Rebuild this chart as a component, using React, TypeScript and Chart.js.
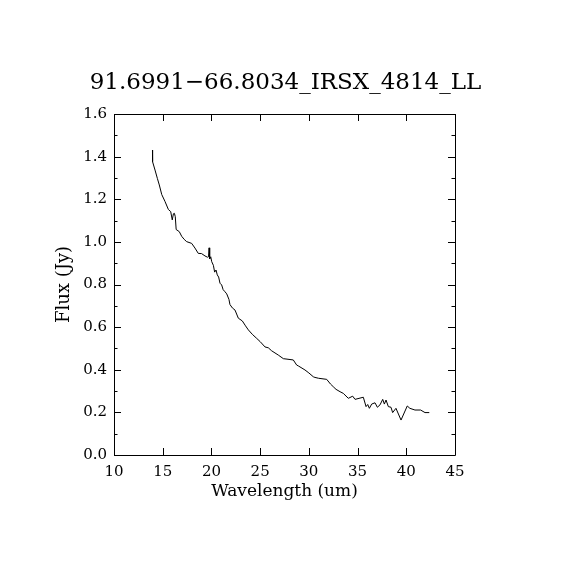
import React, { useEffect, useRef } from "react";
import { Chart, registerables } from "chart.js";

Chart.register(...registerables);

const titleText = "91.6991\u221266.8034_IRSX_4814_LL";
const xTitle = "Wavelength (um)";
const yTitle = "Flux (Jy)";

const wavelength = [
  13.95, 13.96, 14.21, 14.45, 14.65, 14.9, 15.23, 15.58, 15.82, 15.98, 16.1, 16.2, 16.29, 16.38,
  16.7, 16.95, 17.2, 17.46, 17.97, 18.31, 18.65, 18.99, 19.34, 19.6, 19.7, 19.76, 19.82, 19.93,
  20.03, 20.2, 20.33, 20.47, 20.6, 20.74, 20.88, 21.05, 21.2, 21.39, 21.57, 21.8, 21.9, 22.15,
  22.42, 22.76, 23.17, 23.5, 23.79, 24.2, 24.65, 25.0, 25.5, 25.84, 26.18, 26.86, 27.38, 28.4,
  28.75, 28.92, 29.6, 30.0, 30.46, 30.63, 31.0, 31.66, 31.83, 32.22, 32.56, 32.79, 33.2, 33.54,
  34.05, 34.5, 34.74, 35.59, 35.87, 36.04, 36.21, 36.45, 36.79, 37.03, 37.3, 37.58, 37.75, 37.92,
  38.16, 38.43, 38.6, 38.94, 39.46, 40.1, 40.37, 40.89, 41.47, 41.92, 42.36,
];
const flux = [
  1.431, 1.376, 1.337, 1.298, 1.267, 1.222, 1.19, 1.152, 1.142, 1.103, 1.132, 1.134, 1.118, 1.058,
  1.048, 1.026, 1.012, 1.001, 0.993, 0.971, 0.946, 0.945, 0.934, 0.928, 0.93, 0.972, 0.92, 0.93,
  0.907, 0.89, 0.858, 0.868, 0.845, 0.835, 0.806, 0.798, 0.776, 0.766, 0.756, 0.73, 0.706, 0.69,
  0.68, 0.642, 0.629, 0.606, 0.587, 0.566, 0.547, 0.532, 0.507, 0.503, 0.489, 0.469, 0.452, 0.446,
  0.422, 0.418, 0.399, 0.385, 0.367, 0.364, 0.36, 0.356, 0.355, 0.333, 0.318, 0.308, 0.297, 0.289,
  0.266, 0.276, 0.261, 0.271, 0.227, 0.237, 0.219, 0.239, 0.245, 0.224, 0.235, 0.261, 0.239, 0.258,
  0.227, 0.224, 0.199, 0.219, 0.164, 0.23, 0.219, 0.211, 0.211, 0.199, 0.199,
];

const xMajor = [10, 15, 20, 25, 30, 35, 40, 45];
const yMajor = [0, 0.2, 0.4, 0.6, 0.8, 1.0, 1.2, 1.4, 1.6];
const yMinor = [0.1, 0.3, 0.5, 0.7, 0.9, 1.1, 1.3, 1.5];

const FONT = "'DejaVu Serif', serif";

const framePlugin = {
  id: "frame",
  afterDraw(chart: any) {
    const { ctx, chartArea } = chart;
    const { left, right, top, bottom } = chartArea;
    const xs = chart.scales.x;
    const ys = chart.scales.y;
    ctx.save();
    ctx.strokeStyle = "#000";
    ctx.lineWidth = 1;
    ctx.beginPath();
    ctx.rect(Math.round(left) + 0.5, Math.round(top) + 0.5, Math.round(right - left), Math.round(bottom - top));
    ctx.stroke();
    ctx.beginPath();
    const major = 7;
    const minor = 3.5;
    xMajor.forEach((v) => {
      const px = Math.round(xs.getPixelForValue(v)) + 0.5;
      ctx.moveTo(px, bottom);
      ctx.lineTo(px, bottom - major);
      ctx.moveTo(px, top);
      ctx.lineTo(px, top + major);
    });
    yMajor.forEach((v) => {
      const py = Math.round(ys.getPixelForValue(v)) + 0.5;
      ctx.moveTo(left, py);
      ctx.lineTo(left + major, py);
      ctx.moveTo(right, py);
      ctx.lineTo(right - major, py);
    });
    yMinor.forEach((v) => {
      const py = Math.round(ys.getPixelForValue(v)) + 0.5;
      ctx.moveTo(left, py);
      ctx.lineTo(left + minor, py);
      ctx.moveTo(right, py);
      ctx.lineTo(right - minor, py);
    });
    ctx.stroke();
    ctx.fillStyle = "#000";
    ctx.textAlign = "center";
    ctx.textBaseline = "middle";
    // title
    ctx.font = `23px ${FONT}`;
    ctx.fillText(titleText, (left + right) / 2 + 1, 83);
    // x axis title
    ctx.font = `17px ${FONT}`;
    ctx.fillText(xTitle, (left + right) / 2, 492);
    // y axis title
    ctx.save();
    ctx.translate(64, (top + bottom) / 2);
    ctx.rotate(-Math.PI / 2);
    ctx.font = `18px ${FONT}`;
    ctx.fillText(yTitle, 0, 0);
    ctx.restore();
    ctx.restore();
  },
};

export default function App() {
  const ref = useRef<HTMLCanvasElement | null>(null);
  useEffect(() => {
    if (!ref.current) return;
    const chart = new Chart(ref.current, {
      type: "line",
      data: {
        datasets: [
          {
            data: wavelength.map((x, i) => ({ x, y: flux[i] })),
            borderColor: "#000",
            borderWidth: 1,
            pointRadius: 0,
            fill: false,
            tension: 0,
          },
        ],
      },
      options: {
        animation: false,
        responsive: false,
        devicePixelRatio: 1,
        layout: { padding: { top: 114, left: 0, right: 115, bottom: 0 } },
        plugins: { legend: { display: false }, tooltip: { enabled: false }, title: { display: false } },
        scales: {
          x: {
            type: "linear",
            min: 10,
            max: 45,
            afterFit: (s: any) => {
              s.height = 115;
            },
            afterBuildTicks: (s: any) => {
              s.ticks = xMajor.map((v) => ({ value: v }));
            },
            grid: { display: false, drawTicks: false },
            border: { display: false },
            ticks: {
              color: "#000",
              font: { family: FONT, size: 15 },
              padding: 8,
              maxRotation: 0,
              autoSkip: false,
              callback: (v: any) => String(v),
            },
          },
          y: {
            type: "linear",
            min: 0,
            max: 1.6,
            afterFit: (s: any) => {
              s.width = 114;
            },
            afterBuildTicks: (s: any) => {
              s.ticks = yMajor.map((v) => ({ value: v }));
            },
            grid: { display: false, drawTicks: false },
            border: { display: false },
            ticks: {
              color: "#000",
              font: { family: FONT, size: 15 },
              padding: 7,
              autoSkip: false,
              callback: (v: any) => Number(v).toFixed(1),
            },
          },
        },
      },
      plugins: [framePlugin],
    });
    return () => chart.destroy();
  }, []);
  return (
    <div style={{ position: "fixed", left: 0, top: 0, width: 570, height: 570, background: "#fff" }}>
      <canvas ref={ref} width={570} height={570} style={{ width: 570, height: 570 }} />
    </div>
  );
}
